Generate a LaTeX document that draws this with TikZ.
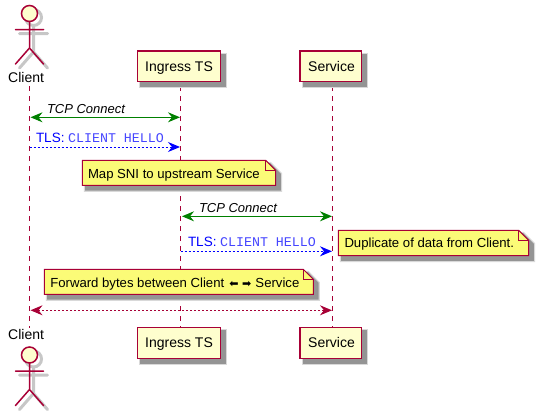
\documentclass[tikz,border=0pt]{standalone}
\usepackage{fontspec}
\setmainfont{Liberation Sans}
\newfontfamily\monofam{Liberation Mono}
\newfontfamily\dejavu{DejaVu Sans}
\usetikzlibrary{arrows.meta}
\definecolor{umlred}{HTML}{A80036}
\definecolor{umlfill}{HTML}{FEFECE}
\definecolor{umlnote}{HTML}{FBFB77}
\definecolor{umlgreen}{HTML}{008000}
\definecolor{umlblue}{HTML}{0000FF}
\definecolor{umlmono}{HTML}{4545FF}
\tikzset{
  softshadow/.style={preaction={draw=black!15,fill=black!15,line width=5pt,transform canvas={shift={(4pt,-4pt)}}},
                     preaction={draw=black!42,fill=black!42,line width=2.5pt,transform canvas={shift={(4pt,-4pt)}}}},
  partbox/.style={draw=umlred,fill=umlfill,line width=1.5pt,softshadow},
  notebody/.style={draw=umlred,fill=umlnote,line width=1pt,line join=miter,softshadow},
  lifeline/.style={draw=umlred,line width=1pt,dash pattern=on 5pt off 5pt},
  label/.style={inner sep=0pt,outer sep=0pt,anchor=base west,font=\fontsize{14}{16}\selectfont,text=black},
  notetext/.style={inner sep=0pt,outer sep=0pt,anchor=base west,font=\fontsize{13.15}{15}\selectfont,text=black},
  msgtext/.style={inner sep=0pt,outer sep=0pt,anchor=base west,font=\fontsize{13}{15}\selectfont\itshape,text=black},
  tlstext/.style={inner sep=0pt,outer sep=0pt,anchor=base west,font=\fontsize{13.5}{16}\selectfont,text=umlblue},
  greenmsg/.style={draw=umlgreen,line width=1pt,{Stealth[length=12pt,width=10pt,inset=4pt]}-{Stealth[length=12pt,width=10pt,inset=4pt]}},
  bluemsg/.style={draw=umlblue,line width=1pt,dash pattern=on 2pt off 2pt,-{Stealth[length=12pt,width=10pt,inset=4pt]}},
  redmsg/.style={draw=umlred,line width=1pt,dash pattern=on 2pt off 2pt,{Stealth[length=12pt,width=10pt,inset=4pt]}-{Stealth[length=12pt,width=10pt,inset=4pt]}},
  actorline/.style={draw=umlred,line width=1.5pt,line cap=round},
  actorshadow/.style={draw=black!22,line width=3pt,line cap=round},
}
\newcommand{\notepath}[4]{% x1 y1 x2 y2
  \path[notebody] (#1,#2) -- (#3-10,#2) -- (#3,#2+10) -- (#3,#4) -- (#1,#4) -- cycle;
  \draw[umlred,line width=1pt] (#3-10,#2) -- (#3-10,#2+10) -- (#3,#2+10);
}
\newcommand{\stickman}[2]{% x, head centre y
  \draw[actorshadow] (#1+4,#2+4) circle (8);
  \draw[actorshadow] (#1+4,#2+12) -- (#1+4,#2+38.5)
     (#1-10,#2+20) -- (#1+18,#2+20)
     (#1-10,#2+54.5) -- (#1+4,#2+38.5) -- (#1+18,#2+54.5);
  \draw[actorline,fill=umlfill] (#1,#2) circle (8);
  \draw[actorline] (#1,#2+8) -- (#1,#2+34.5)
     (#1-14,#2+16) -- (#1+14,#2+16)
     (#1-14,#2+50.5) -- (#1,#2+34.5) -- (#1+14,#2+50.5);
}
\newcommand{\tlslabel}{TLS:{\hspace{3.6pt}\monofam\fontsize{13.3}{15}\selectfont\color{umlmono}CLIENT HELLO}}
\begin{document}
\begin{tikzpicture}[x=1pt,y=-1pt]
\useasboundingbox (0,0) rectangle (539,415);
% lifeline ends
\coordinate (ctop) at (29.5,86);   \coordinate (cbot) at (29.5,328);
\coordinate (itop) at (180.5,86);  \coordinate (ibot) at (180.5,327);
\coordinate (stop) at (332.5,86);  \coordinate (sbot) at (332.5,327);
\path[lifeline] (ctop) -- (cbot);
\path[lifeline] (itop) -- (ibot);
\path[lifeline] (stop) -- (sbot);
% participants
\path[partbox] (137.3,51) rectangle (220.7,81.7);
\node[label] (ingresstop) at (145.2,71) {Ingress TS};
\path[partbox] (300,51) rectangle (361.7,81.7);
\node[label] (servicetop) at (308.2,71) {Service};
\path[partbox] (137.3,327.3) rectangle (220.7,358.3);
\node[label] (ingressbot) at (145.2,347.3) {Ingress TS};
\path[partbox] (300,327.3) rectangle (361.7,358.3);
\node[label] (servicebot) at (308.2,347.3) {Service};
% actors
\stickman{29.5}{13.5}
\node[label] (clienttop) at (8.2,82.7) {Client};
\stickman{29.5}{355}
\node[label] (clientbot) at (8.2,339.3) {Client};
% messages
\coordinate (m1a) at (30.5,117.3); \coordinate (m1b) at (180,117.3);
\draw[greenmsg] (m1a) -- (m1b);
\node[msgtext] (m1t) at (47,113) {TCP Connect};
\coordinate (m2a) at (29.5,147); \coordinate (m2b) at (180,147);
\draw[bluemsg] (m2a) -- (m2b);
\node[tlstext] (m2t) at (36,142) {\tlslabel};
\notepath{82.3}{160.3}{275.7}{185.3}
\node[notetext] (n1) at (88,178) {Map SNI to upstream Service};
\coordinate (m3a) at (182,216.3); \coordinate (m3b) at (332,216.3);
\draw[greenmsg] (m3a) -- (m3b);
\node[msgtext] (m3t) at (199,212) {TCP Connect};
\coordinate (m4a) at (180.5,251.3); \coordinate (m4b) at (332,251.3);
\draw[bluemsg] (m4a) -- (m4b);
\node[tlstext] (m4t) at (188,246.3) {\tlslabel};
\notepath{338.3}{230.3}{528.7}{255.7}
\node[notetext] (n2) at (344.5,247) {Duplicate of data from Client.};
\notepath{44.3}{269.3}{313.3}{294.3}
\node[notetext] (n3) at (50.3,287) {Forward bytes between Client\hspace{1.5pt} {\dejavu\fontsize{11}{13}\selectfont ⬅ ➡}\hspace{0.5pt} Service};
\coordinate (m5a) at (30.5,310.3); \coordinate (m5b) at (332,310.3);
\draw[redmsg] (m5a) -- (m5b);
\end{tikzpicture}
\end{document}
